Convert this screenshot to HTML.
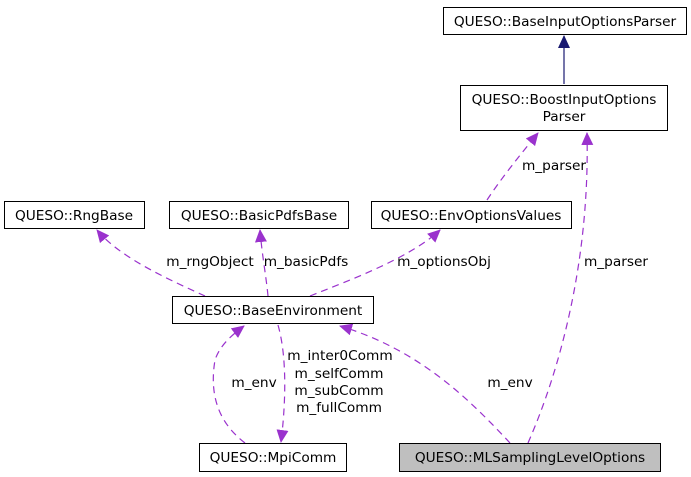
<!DOCTYPE html>
<html><head><meta charset="utf-8"><style>
html,body{margin:0;padding:0;background:#fff;}
svg{display:block;}
text{font-family:"DejaVu Sans","Liberation Sans",sans-serif;font-size:13.7px;fill:#000;}
</style></head><body>
<svg width="691" height="477" viewBox="0 0 691 477" xmlns="http://www.w3.org/2000/svg">
<defs>
<marker id="ap" markerWidth="13" markerHeight="12" refX="12" refY="6" orient="auto" markerUnits="userSpaceOnUse"><path d="M0,0 L13,6 L0,12 z" fill="#9a32cd"/></marker>
<marker id="an" markerWidth="13" markerHeight="12" refX="12" refY="6" orient="auto" markerUnits="userSpaceOnUse"><path d="M0,0 L13,6 L0,12 z" fill="#191970"/></marker>
</defs>
<g fill="none" stroke="#9a32cd" stroke-width="1.2" stroke-dasharray="7,5">
<path d="M487,200 C500,180 520,155 538,133" marker-end="url(#ap)"/>
<path d="M528,443 C560,370 590,260 587,133" marker-end="url(#ap)"/>
<path d="M205,296 C170,280 120,258 97,230" marker-end="url(#ap)"/>
<path d="M268,296 C266,275 262,255 260,230" marker-end="url(#ap)"/>
<path d="M310,296 C350,280 410,258 440,230" marker-end="url(#ap)"/>
<path d="M510,443 C470,400 420,350 340,326" marker-end="url(#ap)"/>
<path d="M245,443 C215,420 210,390 215,360 C220,345 232,335 244,326" marker-end="url(#ap)"/>
<path d="M278,325 C288,360 285,410 281,442" marker-end="url(#ap)"/>
</g>
<path d="M564,84 L564,36" stroke="#191970" stroke-width="1.2" fill="none" marker-end="url(#an)"/>
<g stroke="#000" stroke-width="1" fill="#fff">
<rect x="443.5" y="7.5" width="243" height="27"/>
<rect x="460.5" y="85.5" width="207" height="45"/>
<rect x="4.5" y="201.5" width="140" height="27"/>
<rect x="169.5" y="201.5" width="179" height="27"/>
<rect x="371.5" y="201.5" width="200" height="27"/>
<rect x="172.5" y="296.5" width="201" height="27"/>
<rect x="199.5" y="443.5" width="147" height="28"/>
<rect x="399.5" y="443.5" width="261" height="28" fill="#bfbfbf"/>
</g>
<g text-anchor="middle">
<text x="565" y="26">QUESO::BaseInputOptionsParser</text>
<text x="564" y="104">QUESO::BoostInputOptions</text>
<text x="564" y="121">Parser</text>
<text x="74" y="220">QUESO::RngBase</text>
<text x="259" y="220">QUESO::BasicPdfsBase</text>
<text x="471" y="220">QUESO::EnvOptionsValues</text>
<text x="273" y="315">QUESO::BaseEnvironment</text>
<text x="273" y="462">QUESO::MpiComm</text>
<text x="530" y="462">QUESO::MLSamplingLevelOptions</text>
<text x="554" y="170">m_parser</text>
<text x="616" y="266">m_parser</text>
<text x="210" y="266">m_rngObject</text>
<text x="306" y="266">m_basicPdfs</text>
<text x="444" y="266">m_optionsObj</text>
<text x="510" y="387">m_env</text>
<text x="254" y="387">m_env</text>
<text x="340" y="360">m_inter0Comm</text>
<text x="339" y="378">m_selfComm</text>
<text x="339" y="395">m_subComm</text>
<text x="339" y="412">m_fullComm</text>
</g>
</svg>
</body></html>
